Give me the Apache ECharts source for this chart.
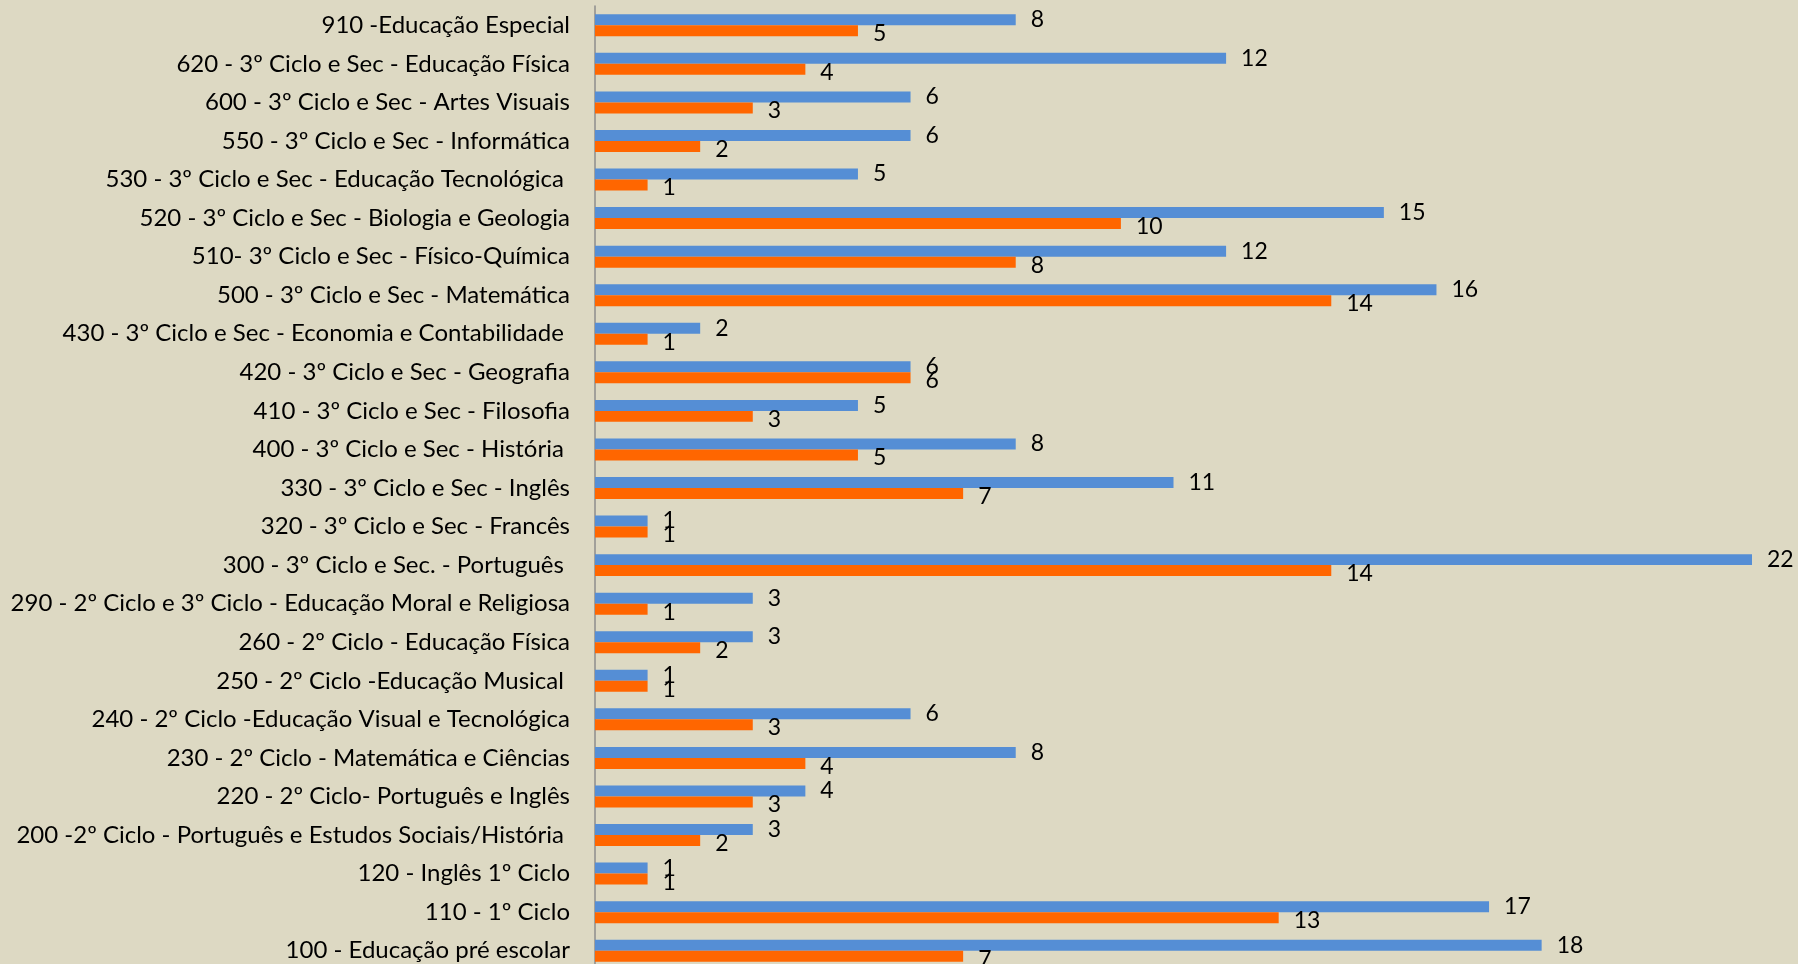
<!DOCTYPE html>
<html>
<head>
<meta charset="utf-8">
<script src="https://cdn.jsdelivr.net/npm/echarts@6/dist/echarts.min.js"></script>
<style>
  html, body { margin: 0; padding: 0; background: #ddd9c3; overflow: hidden; }
  /* o gráfico original está cortado em baixo: o div é mais alto que a janela */
  #chart { width: 1798px; height: 972px; }
</style>
</head>
<body>
<div id="chart"></div>
<script>
// grupos de recrutamento (de baixo para cima, como o eixo de categorias do ECharts)
var categorias = [
  "100 - Educação pré escolar",
  "110 - 1º Ciclo",
  "120 - Inglês 1º Ciclo",
  "200 -2º Ciclo - Português e Estudos Sociais/História ",
  "220 - 2º Ciclo- Português e Inglês",
  "230 - 2º Ciclo - Matemática e Ciências",
  "240 - 2º Ciclo -Educação Visual e Tecnológica",
  "250 - 2º Ciclo -Educação Musical ",
  "260 - 2º Ciclo - Educação Física",
  "290 - 2º Ciclo e 3º Ciclo - Educação Moral e Religiosa",
  "300 - 3º Ciclo e Sec. - Português ",
  "320 - 3º Ciclo e Sec - Francês",
  "330 - 3º Ciclo e Sec - Inglês",
  "400 - 3º Ciclo e Sec - História ",
  "410 - 3º Ciclo e Sec - Filosofia",
  "420 - 3º Ciclo e Sec - Geografia",
  "430 - 3º Ciclo e Sec - Economia e Contabilidade ",
  "500 - 3º Ciclo e Sec - Matemática",
  "510- 3º Ciclo e Sec - Físico-Química",
  "520 - 3º Ciclo e Sec - Biologia e Geologia",
  "530 - 3º Ciclo e Sec - Educação Tecnológica ",
  "550 - 3º Ciclo e Sec - Informática",
  "600 - 3º Ciclo e Sec - Artes Visuais",
  "620 - 3º Ciclo e Sec - Educação Física",
  "910 -Educação Especial"
];
// serie azul
var serieAzul = [18, 17, 1, 3, 4, 8, 6, 1, 3, 3, 22, 1, 11, 8, 5, 6, 2, 16, 12, 15, 5, 6, 6, 12, 8];
// serie laranja
var serieLaranja = [7, 13, 1, 2, 3, 4, 3, 1, 2, 1, 14, 1, 7, 5, 3, 6, 1, 14, 8, 10, 1, 2, 3, 4, 5];

var chart = echarts.init(document.getElementById("chart"));
var fonte = "Lato, 'Liberation Sans', sans-serif";

var option = {
  backgroundColor: "#ddd9c3",
  animation: false,
  grid: {
    left: 595,
    width: 1157,
    top: 6,
    height: 964,
    containLabel: false
  },
  xAxis: {
    type: "value",
    min: 0,
    max: 22,
    show: false
  },
  yAxis: {
    type: "category",
    data: categorias,
    axisLine: { show: true, lineStyle: { color: "#8c8c8c", width: 1.5 } },
    axisTick: { show: false },
    axisLabel: {
      color: "#000",
      fontSize: 24,
      fontFamily: fonte,
      margin: 25
    }
  },
  series: [
    {
      name: "Série 1",
      type: "bar",
      data: serieAzul,
      barGap: "0%",
      barCategoryGap: "43%",
      itemStyle: { color: "#558ed5" },
      label: {
        show: true,
        position: "right",
        distance: 15,
        color: "#000",
        fontSize: 23,
        fontFamily: fonte
      }
    },
    {
      name: "Série 2",
      type: "bar",
      data: serieLaranja,
      itemStyle: { color: "#ff6600" },
      label: {
        show: true,
        position: "right",
        distance: 15,
        offset: [0, 3],
        color: "#000",
        fontSize: 23,
        fontFamily: fonte
      }
    }
  ]
};
chart.setOption(option);
</script>
</body>
</html>
